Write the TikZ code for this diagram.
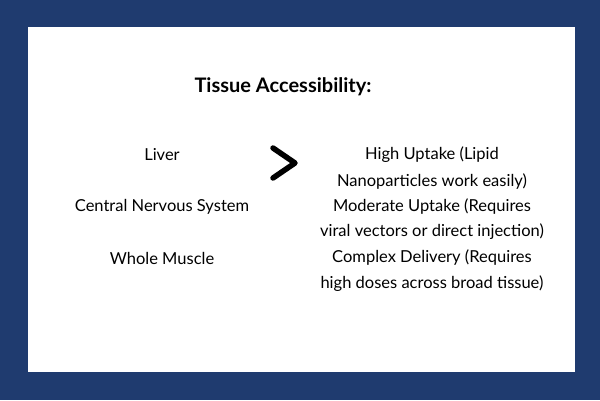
\documentclass[tikz,border=0pt]{standalone}
\usepackage{fontspec}
\setmainfont{Lato}
\definecolor{navy}{HTML}{1F3B6F}
\begin{document}
\begin{tikzpicture}[x=1pt,y=-1pt,
  txt/.style={font=\fontsize{16.5}{20}\selectfont, text=black, align=center, inner sep=0pt}]
\fill[navy] (0,0) rectangle (600,400);
\fill[white] (28,27) rectangle (575,372);
\node[font=\bfseries\fontsize{20}{24}\selectfont, inner sep=0pt] (title) at (283,87) {Tissue Accessibility:};
\node[txt] (liver) at (162,155) {Liver};
\node[txt] (cns) at (162,207) {Central Nervous System};
\node[txt] (muscle) at (162,258) {Whole Muscle};
\node[txt] (r1) at (432,155) {High Uptake (Lipid};
\node[txt] (r2) at (432,182) {Nanoparticles work easily)};
\node[txt] (r3) at (432,207) {Moderate Uptake (Requires};
\node[txt] (r4) at (432,232) {viral vectors or direct injection)};
\node[txt] (r5) at (432,258) {Complex Delivery (Requires};
\node[txt] (r6) at (432,284) {high doses across broad tissue)};
\draw[line width=5.5pt, line cap=round, line join=round] (273,148) -- (295,163) -- (273,178);
\end{tikzpicture}
\end{document}
